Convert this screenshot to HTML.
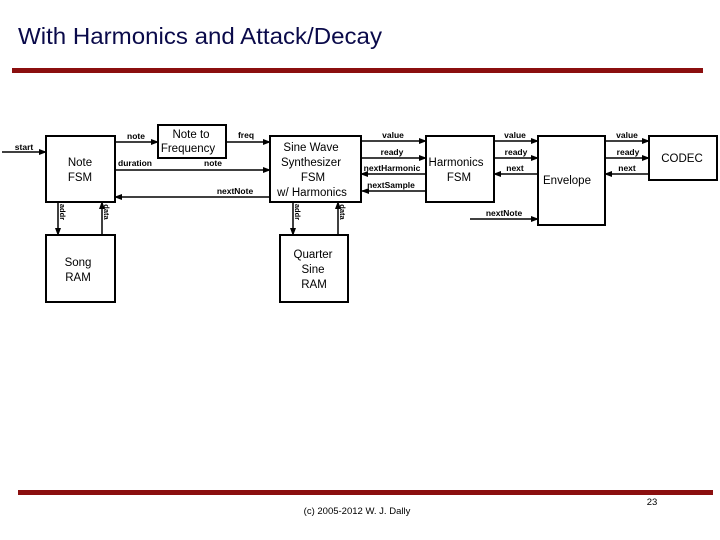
<!DOCTYPE html>
<html><head><style>
html,body{margin:0;padding:0;background:#fff;}
svg{display:block;}
text{font-family:"Liberation Sans",sans-serif;}
</style></head><body>
<svg width="720" height="540" viewBox="0 0 720 540" xmlns="http://www.w3.org/2000/svg">
<defs>
<marker id="a" markerWidth="8" markerHeight="6" refX="7" refY="3" orient="auto" markerUnits="userSpaceOnUse">
<path d="M0,0 L8,3 L0,6 Z" fill="#000"/></marker>
</defs>
<text x="18" y="44" font-size="23.5" fill="#0a0a4a" textLength="364" lengthAdjust="spacingAndGlyphs">With Harmonics and Attack/Decay</text>
<rect x="12" y="68" width="691" height="5" fill="#8b0f0f"/>
<rect x="18" y="490" width="695" height="5" fill="#8b0f0f"/>
<text x="357" y="514" font-size="9.5" text-anchor="middle" fill="#000">(c) 2005-2012 W. J. Dally</text>
<text x="652" y="505" font-size="9.5" text-anchor="middle" fill="#000">23</text>

<g fill="none" stroke="#000" stroke-width="2">
<rect x="46" y="136" width="69" height="66"/>
<rect x="158" y="125" width="68" height="33"/>
<rect x="270" y="136" width="91" height="66"/>
<rect x="46" y="235" width="69" height="67"/>
<rect x="280" y="235" width="68" height="67"/>
<rect x="426" y="136" width="68" height="66"/>
<rect x="538" y="136" width="67" height="89"/>
<rect x="649" y="136" width="68" height="44"/>
</g>
<g stroke="#000" stroke-width="1.5" marker-end="url(#a)">
<line x1="2" y1="152" x2="46" y2="152"/>
<line x1="115" y1="142" x2="158" y2="142"/>
<line x1="226" y1="142" x2="270" y2="142"/>
<line x1="115" y1="170" x2="270" y2="170"/>
<line x1="270" y1="197" x2="115" y2="197"/>
<line x1="58" y1="202" x2="58" y2="235"/>
<line x1="102" y1="235" x2="102" y2="202"/>
<line x1="293" y1="202" x2="293" y2="235"/>
<line x1="338" y1="235" x2="338" y2="202"/>
<line x1="361" y1="141" x2="426" y2="141"/>
<line x1="361" y1="158" x2="426" y2="158"/>
<line x1="426" y1="174" x2="361" y2="174"/>
<line x1="426" y1="191" x2="362" y2="191"/>
<line x1="494" y1="141" x2="538" y2="141"/>
<line x1="494" y1="158" x2="538" y2="158"/>
<line x1="538" y1="174" x2="494" y2="174"/>
<line x1="605" y1="141" x2="649" y2="141"/>
<line x1="605" y1="158" x2="649" y2="158"/>
<line x1="649" y1="174" x2="605" y2="174"/>
<line x1="470" y1="219" x2="538" y2="219"/>
</g>
<g font-size="11.5" fill="#000" text-anchor="middle">
<text x="80" y="166">Note</text><text x="80" y="181">FSM</text>
<text x="191" y="138">Note to</text><text x="188" y="152">Frequency</text>
<text x="311" y="151">Sine Wave</text><text x="311" y="166">Synthesizer</text><text x="313" y="181">FSM</text><text x="312" y="196">w/ Harmonics</text>
<text x="78" y="266">Song</text><text x="78" y="281">RAM</text>
<text x="313" y="258">Quarter</text><text x="313" y="273">Sine</text><text x="314" y="288">RAM</text>
<text x="456" y="166">Harmonics</text><text x="459" y="181">FSM</text>
<text x="567" y="184">Envelope</text>
<text x="682" y="162">CODEC</text>
</g>
<g font-size="8.5" font-weight="bold" fill="#000" text-anchor="middle">
<text x="24" y="150">start</text>
<text x="136" y="139">note</text>
<text x="246" y="138">freq</text>
<text x="135" y="166">duration</text>
<text x="213" y="166">note</text>
<text x="235" y="194">nextNote</text>
<text x="393" y="138">value</text>
<text x="392" y="155">ready</text>
<text x="392" y="171">nextHarmonic</text>
<text x="391" y="188">nextSample</text>
<text x="515" y="138">value</text>
<text x="516" y="155">ready</text>
<text x="515" y="171">next</text>
<text x="627" y="138">value</text>
<text x="628" y="155">ready</text>
<text x="627" y="171">next</text>
<text x="504" y="216">nextNote</text>
<text transform="translate(60,212) rotate(90)" font-size="7.5">addr</text>
<text transform="translate(104,212) rotate(90)" font-size="7.5">data</text>
<text transform="translate(295,212) rotate(90)" font-size="7.5">addr</text>
<text transform="translate(340,212) rotate(90)" font-size="7.5">data</text>
</g>
</svg>
</body></html>
